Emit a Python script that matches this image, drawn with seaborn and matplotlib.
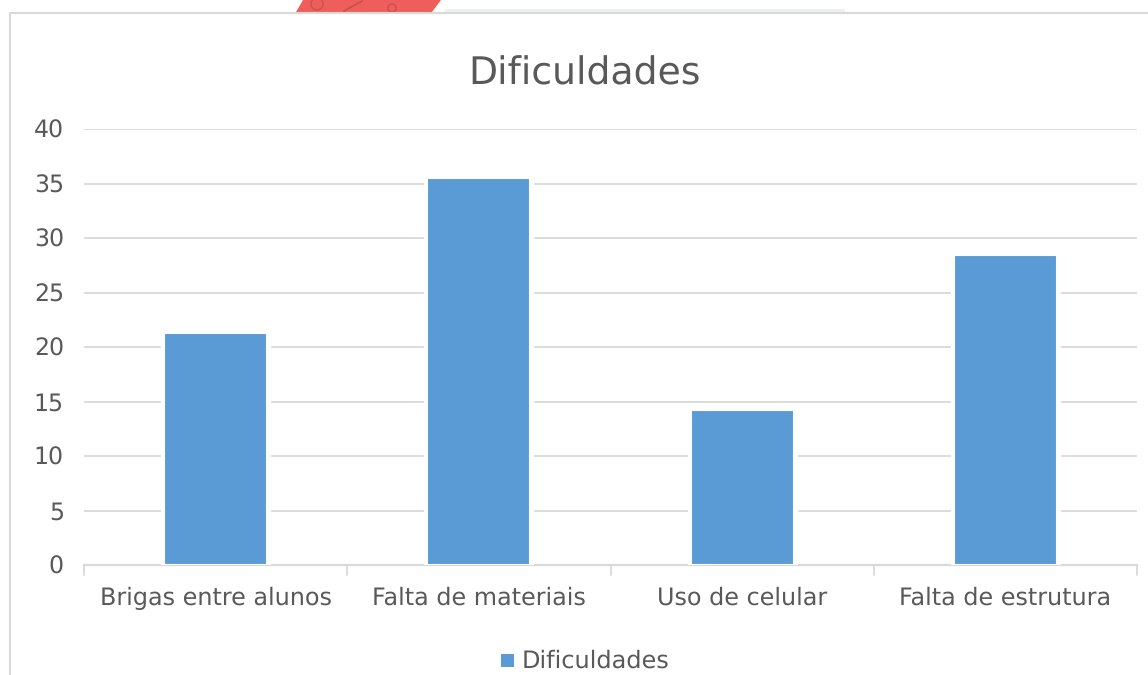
import matplotlib
matplotlib.use("Agg")
import matplotlib.pyplot as plt
import matplotlib.patheffects as pe
from matplotlib.patches import Rectangle, Polygon, Circle
from matplotlib.transforms import IdentityTransform
import pandas as pd
import seaborn as sns

categorias = ['Brigas entre alunos', 'Falta de materiais', 'Uso de celular', 'Falta de estrutura']
valores = [21.3, 35.5, 14.2, 28.4]
ticks_y = [0, 5, 10, 15, 20, 25, 30, 35, 40]

sns.set_theme(style="white")
plt.rcParams['font.family'] = ['DejaVu Sans']
plt.rcParams['text.hinting'] = 'no_hinting'

W, H = 1148, 675
fig = plt.figure(figsize=(W / 100, H / 100), dpi=100)
ax = fig.add_axes([84 / W, 1 - 565 / H, (1137 - 84) / W, (565 - 129) / H])

df = pd.DataFrame({'categoria': categorias, 'valor': valores})
sns.barplot(data=df, x='categoria', y='valor', color='#5B9BD5', saturation=1, width=0.392,
            edgecolor='#FFFFFF', linewidth=1.5, ax=ax, zorder=3)

# halo branco que corta as linhas de grade em volta das barras
for p in ax.patches:
    p.set_path_effects([pe.withStroke(linewidth=5.2, foreground='white')])

ax.set_ylim(0, 40)
ax.set_xlim(-0.5, 3.5)
ax.set_yticks(ticks_y)
ax.set_xlabel('')
ax.set_ylabel('')
ax.yaxis.grid(True, color='#D9D9D9', linewidth=1.3, zorder=0)
ax.set_axisbelow(True)
for s in ['top', 'right', 'left']:
    ax.spines[s].set_visible(False)
ax.spines['bottom'].set_color('#D9D9D9')
ax.spines['bottom'].set_linewidth(1.6)
ax.tick_params(axis='y', length=0, labelsize=17, labelcolor='#595959', pad=14.5)
ax.tick_params(axis='x', length=0, labelsize=17.2, labelcolor='#595959', pad=15.5)

# marcas do eixo x entre as categorias
for x in [-0.5, 0.5, 1.5, 2.5, 3.5]:
    ax.plot([x, x], [0, -0.95], color='#D9D9D9', lw=1.3, clip_on=False)

fig.text(584.5 / W, 1 - 73.5 / H, 'Dificuldades', fontsize=27.2, color='#595959', ha='center', va='center')

# legenda
fig.patches.append(Rectangle((501 / W, 1 - 667 / H), 13 / W, 13 / H, transform=fig.transFigure,
                             facecolor='#5B9BD5', edgecolor='none'))
fig.text(522 / W, 1 - 661 / H, 'Dificuldades', fontsize=17.3, color='#595959', ha='left', va='center')

# borda do quadro e resto da imagem no topo
fig.add_artist(plt.Line2D([10 / W, 10 / W], [0, 1 - 13 / H], color='#D9D9D9', lw=1.5))
fig.add_artist(plt.Line2D([10 / W, 1], [1 - 13 / H, 1 - 13 / H], color='#D9D9D9', lw=1.5))
fig.add_artist(Polygon([(303 / W, 1), (441 / W, 1), (432 / W, 1 - 12 / H), (296 / W, 1 - 12 / H)],
                       transform=fig.transFigure, facecolor='#EE5F5B', edgecolor='none'))
fig.add_artist(plt.Line2D([344 / W, 362 / W], [1 - 11 / H, 1 - 1 / H], color='#C9504C', lw=1.3))
for cx, cy, r in [(317, 4, 6), (392, 8, 4)]:
    fig.add_artist(Circle((cx, H - cy), r, transform=IdentityTransform(),
                          facecolor='none', edgecolor='#C9504C', lw=1))
fig.add_artist(Rectangle((445 / W, 1 - 12 / H), 400 / W, 3 / H, transform=fig.transFigure,
                         facecolor='#EEF1F1', edgecolor='none'))

fig.savefig('out.png', dpi=100)
